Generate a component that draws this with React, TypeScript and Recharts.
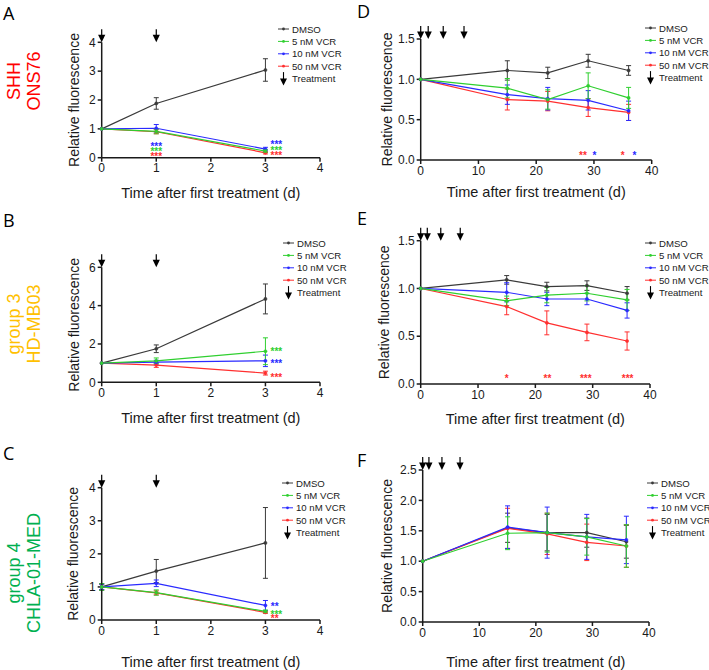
import React from "react";
import { LineChart, Line, XAxis, YAxis, ErrorBar, ReferenceDot, Legend } from "recharts";

const FONT = '"Liberation Sans", Arial, sans-serif';

// drawing order (green on top), legend order
const drawKeys = ["dmso", "vcr50", "vcr10", "vcr5"];
const legendKeys = ["dmso", "vcr5", "vcr10", "vcr50"];
const seriesNames: Record<string, string> = {
  dmso: "DMSO",
  vcr5: "5 nM VCR",
  vcr10: "10 nM VCR",
  vcr50: "50 nM VCR",
};
const seriesColors: Record<string, string> = {
  dmso: "#3a3a3a",
  vcr5: "#2fcf2f",
  vcr10: "#2a2aff",
  vcr50: "#ff2f2f",
};

const shortDays = [0, 1, 3];
const longDays = [0, 15, 22, 29, 36];
const shortTicksX = [0, 1, 2, 3, 4];
const longTicksX = [0, 10, 20, 30, 40];

// A - SHH ONS76
const aDmso = [1, 1.88, 3.04];
const aDmsoErr = [0, 0.2, 0.39];
const a5 = [1, 0.91, 0.23];
const a5Err = [0, 0.08, 0.05];
const a10 = [1, 1.02, 0.3];
const a10Err = [0, 0.13, 0.06];
const a50 = [1, 0.9, 0.17];
const a50Err = [0, 0.07, 0.04];
const aTicksY = [0, 1, 2, 3, 4];
const aTreat = [0, 1];
const aStars: [number, number, string, string][] = [
  [1, 0.47, "***", "vcr10"],
  [1, 0.3, "***", "vcr5"],
  [1, 0.12, "***", "vcr50"],
  [3.2, 0.52, "***", "vcr10"],
  [3.2, 0.33, "***", "vcr5"],
  [3.2, 0.14, "***", "vcr50"],
];

// B - group 3 HD-MB03
const bDmso = [1, 1.75, 4.35];
const bDmsoErr = [0, 0.2, 0.78];
const b5 = [1, 1.12, 1.62];
const b5Err = [0, 0.15, 0.7];
const b10 = [1, 1.05, 1.12];
const b10Err = [0, 0.1, 0.3];
const b50 = [1, 0.9, 0.48];
const b50Err = [0, 0.12, 0.1];
const bTicksY = [0, 2, 4, 6];
const bTreat = [0, 1];
const bStars: [number, number, string, string][] = [
  [3.2, 1.72, "***", "vcr5"],
  [3.2, 1.11, "***", "vcr10"],
  [3.2, 0.38, "***", "vcr50"],
];

// C - group 4 CHLA-01-MED
const cDmso = [1, 1.48, 2.33];
const cDmsoErr = [0.1, 0.35, 1.07];
const c5 = [1, 0.83, 0.26];
const c5Err = [0.1, 0.08, 0.04];
const c10 = [1, 1.11, 0.44];
const c10Err = [0.08, 0.1, 0.15];
const c50 = [1, 0.82, 0.23];
const c50Err = [0.08, 0.06, 0.03];
const cTicksY = [0, 1, 2, 3, 4];
const cTreat = [0, 1];
const cStars: [number, number, string, string][] = [
  [3.17, 0.48, "**", "vcr10"],
  [3.2, 0.23, "***", "vcr5"],
  [3.17, 0.1, "**", "vcr50"],
];

// D
const dDmso = [1, 1.11, 1.08, 1.23, 1.11];
const dDmsoErr = [0, 0.12, 0.07, 0.08, 0.06];
const d5 = [1, 0.89, 0.75, 0.92, 0.77];
const d5Err = [0, 0.12, 0.12, 0.16, 0.13];
const d10 = [1, 0.81, 0.76, 0.74, 0.61];
const d10Err = [0, 0.12, 0.14, 0.12, 0.12];
const d50 = [1, 0.75, 0.73, 0.65, 0.59];
const d50Err = [0, 0.13, 0.12, 0.11, 0.1];
const dTicksY = [0, 0.5, 1, 1.5];
const dTreat = [0, 1.3, 3.9, 7.5];
const dStars: [number, number, string, string][] = [
  [28.1, 0.08, "**", "vcr50"],
  [30.1, 0.08, "*", "vcr10"],
  [35, 0.08, "*", "vcr50"],
  [37, 0.08, "*", "vcr10"],
];

// E
const eDmso = [1, 1.09, 1.02, 1.03, 0.95];
const eDmsoErr = [0, 0.045, 0.045, 0.05, 0.07];
const e5 = [1, 0.87, 0.93, 0.95, 0.88];
const e5Err = [0, 0.05, 0.08, 0.08, 0.11];
const e10 = [1, 0.96, 0.89, 0.89, 0.77];
const e10Err = [0, 0.1, 0.07, 0.06, 0.08];
const e50 = [1, 0.81, 0.64, 0.54, 0.45];
const e50Err = [0, 0.085, 0.125, 0.087, 0.095];
const eTicksY = [0, 0.5, 1, 1.5];
const eTreat = [0, 1.15, 3.5, 6.9];
const eStars: [number, number, string, string][] = [
  [15, 0.08, "*", "vcr50"],
  [22.1, 0.08, "**", "vcr50"],
  [28.8, 0.08, "***", "vcr50"],
  [36.1, 0.08, "***", "vcr50"],
];

// F
const fDmso = [1, 1.55, 1.47, 1.47, 1.32];
const fDmsoErr = [0, 0.24, 0.3, 0.24, 0.27];
const f5 = [1, 1.46, 1.47, 1.4, 1.25];
const f5Err = [0, 0.27, 0.32, 0.3, 0.35];
const f10 = [1, 1.56, 1.47, 1.4, 1.35];
const f10Err = [0, 0.35, 0.42, 0.37, 0.39];
const f50 = [1, 1.54, 1.45, 1.31, 1.25];
const f50Err = [0, 0.33, 0.34, 0.3, 0.35];
const fTicksY = [0, 0.5, 1, 1.5, 2, 2.5];
const fTreat = [0, 1.1, 3.4, 6.6];

function makeRows(days: number[], s: Record<string, number[]>) {
  return days.map((day, i) => {
    const row: any = { day };
    Object.keys(s).forEach((k) => (row[k] = s[k][i]));
    return row;
  });
}

const ArrowShape = (props: any) => {
  const { cx, cy } = props;
  if (cx == null || cy == null) return null;
  return (
    <g>
      <line x1={cx} x2={cx} y1={cy - 13} y2={cy - 5} stroke="#000" strokeWidth={1.2} />
      <path d={`M${cx - 3.6},${cy - 7.5} L${cx + 3.6},${cy - 7.5} L${cx},${cy} Z`} fill="#000" />
    </g>
  );
};

const XTitle = (props: any) => (
  <text
    x={props.tx}
    y={props.ty}
    textAnchor="middle"
    dominantBaseline="central"
    fontFamily={FONT}
    fontSize={14.5}
    fill="#1a1a1a"
  >
    Time after first treatment (d)
  </text>
);

const YTitle = (props: any) => (
  <text
    transform={`translate(${props.tx},${props.ty}) rotate(-90)`}
    textAnchor="middle"
    dominantBaseline="central"
    fontFamily={FONT}
    fontSize={14}
    fill="#1a1a1a"
  >
    Relative fluorescence
  </text>
);

const TreatLegend = ({ spacing }: { spacing: number }) => (
  <svg width={110} height={80} style={{ overflow: "visible", display: "block" }}>
    {legendKeys.map((k, i) => (
      <g key={k} transform={`translate(0,${6 + i * spacing})`}>
        <line x1={0} x2={11} y1={0} y2={0} stroke={seriesColors[k]} strokeWidth={1} />
        <circle cx={5.5} cy={0} r={1.4} fill={seriesColors[k]} />
        <text x={14} y={0} dominantBaseline="central" fontFamily={FONT} fontSize={9.6} fill="#1a1a1a">
          {seriesNames[k]}
        </text>
      </g>
    ))}
    <g transform={`translate(0,${6 + 4 * spacing})`}>
      <line x1={5.5} x2={5.5} y1={-6.5} y2={1} stroke="#000" strokeWidth={1.1} />
      <path d="M2,0 L9,0 L5.5,7 Z" fill="#000" />
      <text x={14} y={0} dominantBaseline="central" fontFamily={FONT} fontSize={9.6} fill="#1a1a1a">
        Treatment
      </text>
    </g>
  </svg>
);

type PanelSpec = {
  box: [number, number, number, number];
  plot: [number, number, number, number];
  rows: any[];
  xDomain: [number, number];
  xTicks: number[];
  yTicks: number[];
  decimals: number;
  treat: number[];
  stars: [number, number, string, string][];
  legend: [number, number];
  xGap: number;
  yGap: number;
};

function Panel({ p }: { p: PanelSpec }) {
  const [bx, by, bw, bh] = p.box;
  const [L, T, R, B] = p.plot;
  const yMax = p.yTicks[p.yTicks.length - 1];
  const margin = { left: L - bx - 30, top: T - by, right: bx + bw - R, bottom: by + bh - B - 30 };
  const tickStyle = { fontSize: 12, fill: "#1a1a1a", fontFamily: FONT };
  return (
    <div style={{ position: "absolute", left: bx, top: by }}>
      <LineChart width={bw} height={bh} data={p.rows} margin={margin}>
        <XAxis
          type="number"
          dataKey="day"
          domain={p.xDomain}
          ticks={p.xTicks}
          interval={0}
          height={30}
          tickSize={4}
          tickMargin={2}
          axisLine={{ stroke: "#1a1a1a", strokeWidth: 1.5 }}
          tickLine={{ stroke: "#1a1a1a", strokeWidth: 1.5 }}
          tick={tickStyle}
          label={<XTitle tx={(L + R) / 2 - bx} ty={B - by + p.xGap} />}
        />
        <YAxis
          type="number"
          domain={[0, yMax]}
          ticks={p.yTicks}
          interval={0}
          width={30}
          tickSize={4}
          tickMargin={2}
          axisLine={{ stroke: "#1a1a1a", strokeWidth: 1.5 }}
          tickLine={{ stroke: "#1a1a1a", strokeWidth: 1.5 }}
          tick={tickStyle}
          tickFormatter={(v: number) => v.toFixed(p.decimals)}
          label={<YTitle tx={L - bx - p.yGap} ty={(T + B) / 2 - by} />}
        />
        {drawKeys.map((k) => (
          <Line
            key={k}
            dataKey={k}
            stroke={seriesColors[k]}
            strokeWidth={1.2}
            dot={{ r: 1.6, fill: seriesColors[k], stroke: seriesColors[k], strokeWidth: 0.5 }}
            activeDot={false}
            isAnimationActive={false}
          >
            <ErrorBar
              dataKey={k + "Err"}
              width={2.5}
              stroke={seriesColors[k]}
              strokeWidth={1}
              direction="y"
              isAnimationActive={false}
            />
          </Line>
        ))}
        {p.treat.map((d) => (
          <ReferenceDot key={"t" + d} x={d} y={yMax} r={0} shape={ArrowShape} ifOverflow="visible" />
        ))}
        {p.stars.map(([d, y, txt, k], i) => (
          <ReferenceDot
            key={"s" + i}
            x={d}
            y={y}
            r={0}
            ifOverflow="visible"
            shape={(sp: any) => (
              <text
                x={sp.cx}
                y={sp.cy + 5.8}
                textAnchor="middle"
                fontFamily={FONT}
                fontSize={10}
                fontWeight="bold"
                fill={seriesColors[k]}
              >
                {txt}
              </text>
            )}
          />
        ))}
        <Legend
          layout="horizontal"
          verticalAlign="middle"
          align="center"
          wrapperStyle={{ left: p.legend[0] - bx, top: p.legend[1] - by - 6, width: 110, height: 80 }}
          content={() => <TreatLegend spacing={12.4} />}
        />
      </LineChart>
    </div>
  );
}

const panels: PanelSpec[] = [
  {
    box: [0, 0, 355, 215],
    plot: [101.7, 42.3, 320, 157.7],
    rows: makeRows(shortDays, { dmso: aDmso, dmsoErr: aDmsoErr, vcr5: a5, vcr5Err: a5Err, vcr10: a10, vcr10Err: a10Err, vcr50: a50, vcr50Err: a50Err }),
    xDomain: [0, 4],
    xTicks: shortTicksX,
    yTicks: aTicksY,
    decimals: 0,
    treat: aTreat,
    stars: aStars,
    legend: [278, 29],
    xGap: 35,
    yGap: 27.7,
  },
  {
    box: [0, 220, 355, 220],
    plot: [101.7, 267.3, 320, 382.3],
    rows: makeRows(shortDays, { dmso: bDmso, dmsoErr: bDmsoErr, vcr5: b5, vcr5Err: b5Err, vcr10: b10, vcr10Err: b10Err, vcr50: b50, vcr50Err: b50Err }),
    xDomain: [0, 4],
    xTicks: shortTicksX,
    yTicks: bTicksY,
    decimals: 0,
    treat: bTreat,
    stars: bStars,
    legend: [283, 242.7],
    xGap: 36,
    yGap: 27.7,
  },
  {
    box: [0, 440, 355, 230],
    plot: [101.7, 487.7, 320, 620],
    rows: makeRows(shortDays, { dmso: cDmso, dmsoErr: cDmsoErr, vcr5: c5, vcr5Err: c5Err, vcr10: c10, vcr10Err: c10Err, vcr50: c50, vcr50Err: c50Err }),
    xDomain: [0, 4],
    xTicks: shortTicksX,
    yTicks: cTicksY,
    decimals: 0,
    treat: cTreat,
    stars: cStars,
    legend: [282, 482.7],
    xGap: 41.7,
    yGap: 28.7,
  },
  {
    box: [355, 0, 354, 215],
    plot: [420.7, 39, 651.7, 160],
    rows: makeRows(longDays, { dmso: dDmso, dmsoErr: dDmsoErr, vcr5: d5, vcr5Err: d5Err, vcr10: d10, vcr10Err: d10Err, vcr50: d50, vcr50Err: d50Err }),
    xDomain: [0, 40],
    xTicks: longTicksX,
    yTicks: dTicksY,
    decimals: 1,
    treat: dTreat,
    stars: dStars,
    legend: [645, 28],
    xGap: 31.7,
    yGap: 34,
  },
  {
    box: [355, 220, 354, 220],
    plot: [420.7, 240.7, 650, 384],
    rows: makeRows(longDays, { dmso: eDmso, dmsoErr: eDmsoErr, vcr5: e5, vcr5Err: e5Err, vcr10: e10, vcr10Err: e10Err, vcr50: e50, vcr50Err: e50Err }),
    xDomain: [0, 40],
    xTicks: longTicksX,
    yTicks: eTicksY,
    decimals: 1,
    treat: eTreat,
    stars: eStars,
    legend: [645, 242.7],
    xGap: 35,
    yGap: 36.4,
  },
  {
    box: [355, 440, 354, 230],
    plot: [422.7, 470, 649, 622],
    rows: makeRows(longDays, { dmso: fDmso, dmsoErr: fDmsoErr, vcr5: f5, vcr5Err: f5Err, vcr10: f10, vcr10Err: f10Err, vcr50: f50, vcr50Err: f50Err }),
    xDomain: [0, 40],
    xTicks: longTicksX,
    yTicks: fTicksY,
    decimals: 1,
    treat: fTreat,
    stars: [],
    legend: [646.7, 483.3],
    xGap: 39.7,
    yGap: 36,
  },
];

const letters: [string, number, number][] = [
  ["A", 3, 20],
  ["B", 3, 227],
  ["C", 3, 460],
  ["D", 357, 18],
  ["E", 357, 225],
  ["F", 357, 467],
];

const sideLabels: [string, string, string, number][] = [
  ["SHH", "ONS76", "#ff0000", 81],
  ["group 3", "HD-MB03", "#ffc000", 324],
  ["group 4", "CHLA-01-MED", "#00b050", 573],
];

export default function App() {
  return (
    <div
      style={{
        position: "absolute",
        left: 0,
        top: 0,
        width: 709,
        height: 670,
        overflow: "hidden",
        background: "#fff",
      }}
    >
      {panels.map((p, i) => (
        <Panel key={i} p={p} />
      ))}
      <svg width={709} height={670} style={{ position: "absolute", left: 0, top: 0, pointerEvents: "none" }}>
        {letters.map(([t, x, y]) => (
          <text key={t} x={x} y={y} fontFamily='"Open Sans", sans-serif' fontSize={18} fill="#000">
            {t}
          </text>
        ))}
        {sideLabels.map(([l1, l2, color, cy]) => (
          <g key={l2} transform={`translate(0,${cy}) rotate(-90)`}>
            <text x={0} y={19.5} textAnchor="middle" fontFamily={FONT} fontSize={18} fill={color}>
              {l1}
            </text>
            <text x={0} y={40} textAnchor="middle" fontFamily={FONT} fontSize={18} fill={color}>
              {l2}
            </text>
          </g>
        ))}
      </svg>
    </div>
  );
}
